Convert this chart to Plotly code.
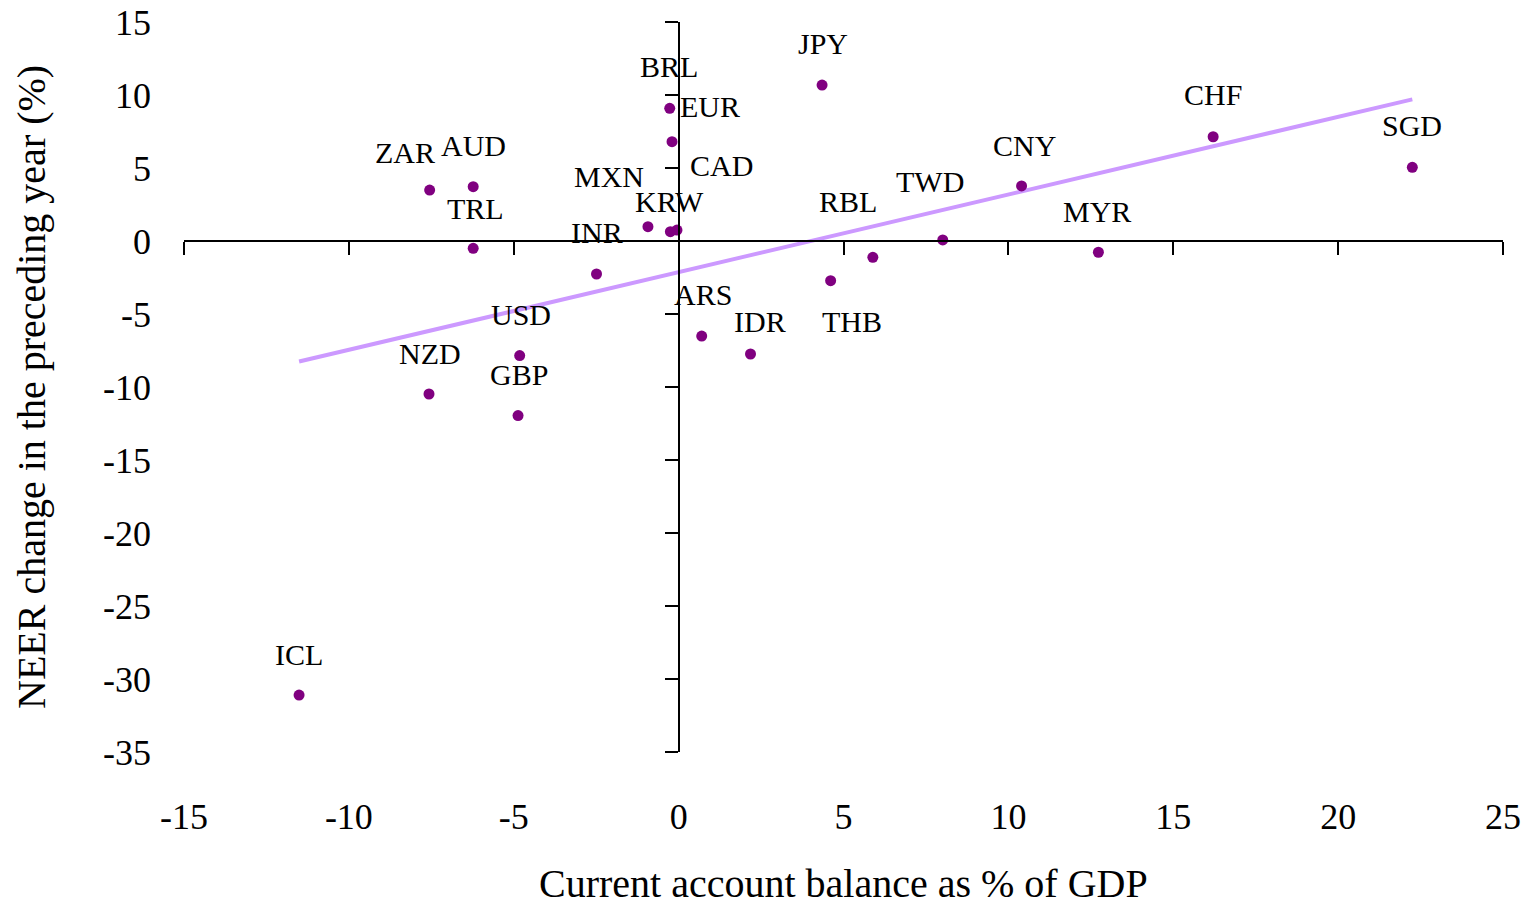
import numpy as np
import plotly.graph_objects as go

# ---- data ----
currencies = ["ICL", "NZD", "ZAR", "AUD", "TRL", "USD", "GBP", "INR", "MXN",
              "BRL", "EUR", "KRW", "CAD", "ARS", "IDR", "JPY", "THB", "RBL",
              "TWD", "CNY", "MYR", "CHF", "SGD"]
current_account = [-11.51, -7.57, -7.55, -6.23, -6.23, -4.82, -4.87, -2.49, -0.93,
                   -0.27, -0.20, -0.25, -0.05, 0.70, 2.18, 4.35, 4.61, 5.89,
                   8.01, 10.40, 12.73, 16.21, 22.25]
neer_change = [-31.1, -10.48, 3.49, 3.72, -0.50, -7.85, -11.96, -2.26, 0.98,
               9.09, 6.80, 0.64, 0.75, -6.51, -7.74, 10.68, -2.72, -1.12,
               0.07, 3.77, -0.77, 7.14, 5.05]

x_tickvals = [-15, -10, -5, 0, 5, 10, 15, 20, 25]
x_ticktext = ["-15", "-10", "-5", "0", "5", "10", "15", "20", "25"]
y_tickvals = [15, 10, 5, 0, -5, -10, -15, -20, -25, -30, -35]
y_ticktext = ["15", "10", "5", "0", "-5", "-10", "-15", "-20", "-25", "-30", "-35"]

x_title = "Current account balance as % of GDP"
y_title = "NEER change in the preceding year (%)"

# ---- label placement (pixel offsets from each point; style only) ----
label_offsets = {
    "ICL": (0, 41), "NZD": (1, 41), "ZAR": (-25, 38), "AUD": (0, 41),
    "TRL": (2, 40), "USD": (1, 41), "GBP": (1, 41), "INR": (0, 42),
    "MXN": (-39, 50), "BRL": (-1, 42), "EUR": (38, 35), "KRW": (-1, 30),
    "CAD": (45, 65), "ARS": (1, 42), "IDR": (9, 33), "JPY": (1, 42),
    "THB": (21, -41), "RBL": (-25, 56), "TWD": (-13, 58), "CNY": (3, 40),
    "MYR": (-1, 41), "CHF": (0, 42), "SGD": (0, 42),
}

FONT = "Liberation Serif, Times New Roman, serif"
XR = [-15, 25]
YR = [-35, 15]

# linear trend line (least squares, as in the spreadsheet trendline)
xa = np.array(current_account)
ya = np.array(neer_change)
slope, intercept = np.polyfit(xa, ya, 1)
trend_x = [xa.min(), xa.max()]
trend_y = [slope * v + intercept for v in trend_x]

fig = go.Figure()
fig.add_trace(go.Scatter(x=trend_x, y=trend_y, mode="lines",
                         line=dict(color="#CC99FF", width=4),
                         hoverinfo="skip", showlegend=False))
fig.add_trace(go.Scatter(x=current_account, y=neer_change, mode="markers",
                         text=currencies,
                         marker=dict(color="#800080", size=11),
                         showlegend=False))
# helper trace for the crossing axes
fig.add_trace(go.Scatter(x=[None], y=[None], xaxis="x2", yaxis="y2",
                         mode="markers", showlegend=False, hoverinfo="skip"))

for name, xv, yv in zip(currencies, current_account, neer_change):
    dx, dy = label_offsets[name]
    fig.add_annotation(x=xv, y=yv, text=name, showarrow=False,
                       xshift=dx, yshift=dy,
                       font=dict(family=FONT, size=30, color="black"))

# axis titles
fig.add_annotation(xref="paper", yref="paper", x=0.5, y=0, yanchor="middle",
                   yshift=-131, text=x_title, showarrow=False,
                   font=dict(family=FONT, size=40, color="black"))
fig.add_annotation(xref="paper", yref="paper", x=0, y=0.5, xanchor="center",
                   xshift=-153, textangle=-90, text=y_title, showarrow=False,
                   font=dict(family=FONT, size=40, color="black"))

common = dict(showgrid=False, zeroline=False, automargin=False)

fig.update_layout(
    width=1529, height=905,
    margin=dict(l=184, r=26, t=22, b=153),
    paper_bgcolor="white", plot_bgcolor="white",
    font=dict(family=FONT, color="black"),
    xaxis=dict(range=XR, showline=False, **common,
               tickvals=x_tickvals, ticktext=x_ticktext, ticks="",
               tickfont=dict(size=36, family=FONT),
               ticklabelstandoff=40, ticklabeloverflow="allow"),
    yaxis=dict(range=YR, showline=False, **common,
               tickvals=y_tickvals, ticktext=y_ticktext, ticks="",
               tickfont=dict(size=36, family=FONT),
               ticklabelstandoff=32, ticklabeloverflow="allow"),
    xaxis2=dict(overlaying="x", anchor="free",
                position=(0 - YR[0]) / (YR[1] - YR[0]),
                range=XR, tickvals=x_tickvals, showticklabels=False,
                showline=True, linecolor="black", linewidth=1.5,
                ticks="outside", ticklen=13, tickwidth=1.5, tickcolor="black",
                side="bottom", **common),
    yaxis2=dict(overlaying="y", anchor="free",
                position=(0 - XR[0]) / (XR[1] - XR[0]),
                range=YR, tickvals=y_tickvals, showticklabels=False,
                showline=True, linecolor="black", linewidth=1.5,
                ticks="outside", ticklen=13, tickwidth=1.5, tickcolor="black",
                side="left", **common),
)

fig.write_html("out.html",
               config={"displayModeBar": False},
               post_script="document.body.style.margin='0';"
                           "document.documentElement.style.overflow='hidden';")
